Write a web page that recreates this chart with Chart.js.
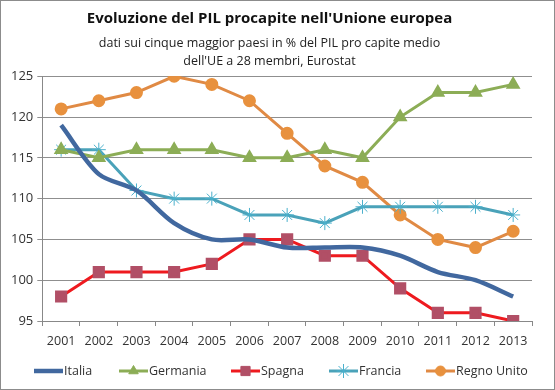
<!DOCTYPE html>
<html>
<head>
<meta charset="utf-8">
<script src="https://cdn.jsdelivr.net/npm/chart.js@4"></script>
<style>
  html, body { margin: 0; padding: 0; background: #fff; }
  #wrap { position: relative; width: 553px; height: 388px; border: 1px solid #8c8c8c; }
</style>
</head>
<body>
<div id="wrap"><canvas id="pilChart"></canvas></div>
<script>
// PIL procapite, % della media UE28 (Eurostat)
const years = ['2001', '2002', '2003', '2004', '2005', '2006', '2007', '2008', '2009', '2010', '2011', '2012', '2013'];
const italia = [119, 113, 111, 107, 105, 105, 104, 104, 104, 103, 101, 100, 98];
const germania = [116, 115, 116, 116, 116, 115, 115, 116, 115, 120, 123, 123, 124];
const spagna = [98, 101, 101, 101, 102, 105, 105, 103, 103, 99, 96, 96, 95];
const francia = [116, 116, 111, 110, 110, 108, 108, 107, 109, 109, 109, 109, 108];
const regnoUnito = [121, 122, 123, 125, 124, 122, 118, 114, 112, 108, 105, 104, 106];
const yTicks = [95, 100, 105, 110, 115, 120, 125];

const FONT = "'Open Sans', 'Noto Sans', sans-serif";

// legend drawn by hand: Excel style line + marker
const lineLegend = {
  id: 'lineLegend',
  afterDraw(chart) {
    const ctx = chart.ctx;
    const y = 370;
    const items = [
      { ds: 0, x: 33 },
      { ds: 1, x: 118 },
      { ds: 2, x: 230 },
      { ds: 3, x: 328 },
      { ds: 4, x: 425 }
    ];
    ctx.save();
    items.forEach(function(it) {
      const ds = chart.data.datasets[it.ds];
      ctx.strokeStyle = ds.borderColor;
      ctx.lineWidth = ds.borderWidth;
      ctx.lineCap = 'butt';
      ctx.beginPath();
      ctx.moveTo(it.x, y);
      ctx.lineTo(it.x + 29, y);
      ctx.stroke();
      if (ds.pointRadius > 0) {
        ctx.fillStyle = ds.pointBackgroundColor;
        ctx.strokeStyle = ds.pointBorderColor;
        ctx.lineWidth = 1;
        Chart.helpers.drawPoint(ctx, {
          pointStyle: ds.pointStyle,
          radius: ds.pointRadius,
          rotation: 0,
          borderWidth: 1
        }, it.x + 14.5, y);
      }
      ctx.fillStyle = '#333';
      ctx.font = '12.5px ' + FONT;
      ctx.textBaseline = 'middle';
      ctx.textAlign = 'left';
      ctx.fillText(ds.label, it.x + 30, y);
    });
    ctx.restore();
  }
};

function initChart() {
  const ctx = document.getElementById('pilChart');
  Chart.defaults.font.family = FONT;

  new Chart(ctx, {
    type: 'line',
    data: {
      labels: years,
      datasets: [
        {
          label: 'Italia',
          data: italia,
          borderColor: '#41689f',
          borderWidth: 4.5,
          pointRadius: 0,
          tension: 0.3
        },
        {
          label: 'Germania',
          data: germania,
          borderColor: '#8cad56',
          borderWidth: 3,
          pointStyle: 'triangle',
          pointRadius: 5.5,
          pointBackgroundColor: '#8cad56',
          pointBorderColor: '#8cad56',
          tension: 0
        },
        {
          label: 'Spagna',
          data: spagna,
          borderColor: '#ee1a1f',
          borderWidth: 3,
          pointStyle: 'rect',
          pointRadius: 6.5,
          pointBackgroundColor: '#b14f66',
          pointBorderColor: '#b14f66',
          tension: 0
        },
        {
          label: 'Francia',
          data: francia,
          borderColor: '#4aa2b9',
          borderWidth: 3,
          pointStyle: 'star',
          pointRadius: 7,
          pointBorderWidth: 1,
          pointBackgroundColor: '#4ab0cc',
          pointBorderColor: '#4ab0cc',
          tension: 0
        },
        {
          label: 'Regno Unito',
          data: regnoUnito,
          borderColor: '#e08a44',
          borderWidth: 3,
          pointStyle: 'circle',
          pointRadius: 5,
          pointBackgroundColor: '#e8913e',
          pointBorderColor: '#e8913e',
          tension: 0
        }
      ]
    },
    options: {
      responsive: true,
      maintainAspectRatio: false,
      animation: false,
      layout: {
        padding: { left: 6, right: 22, top: 4, bottom: 32 }
      },
      plugins: {
        legend: { display: false },
        tooltip: { enabled: false },
        title: {
          display: true,
          text: "Evoluzione del PIL procapite nell'Unione europea",
          color: '#111',
          font: { size: 15, weight: 'bold' },
          padding: { top: 5, bottom: 6 }
        },
        subtitle: {
          display: true,
          text: ['dati sui cinque maggior paesi in % del PIL pro capite medio', "dell'UE a 28 membri, Eurostat"],
          color: '#222',
          font: { size: 12.5, lineHeight: 1.45 },
          padding: { top: 0, bottom: 6 }
        }
      },
      scales: {
        x: {
          offset: true,
          grid: {
            display: true,
            drawOnChartArea: false,
            drawTicks: true,
            tickLength: 5,
            offset: true,
            color: '#888'
          },
          border: { color: '#888' },
          ticks: {
            color: '#333',
            font: { size: 12.5 },
            maxRotation: 0,
            padding: 8
          }
        },
        y: {
          min: 95,
          max: 125,
          afterBuildTicks: function(scale) {
            scale.ticks = yTicks.map(function(v) { return { value: v }; });
          },
          grid: {
            color: '#8f8f8f',
            drawTicks: true,
            tickLength: 5
          },
          border: { color: '#888' },
          ticks: {
            color: '#333',
            font: { size: 13 },
            padding: 4
          }
        }
      }
    },
    plugins: [lineLegend]
  });
}

initChart();
</script>
</body>
</html>
